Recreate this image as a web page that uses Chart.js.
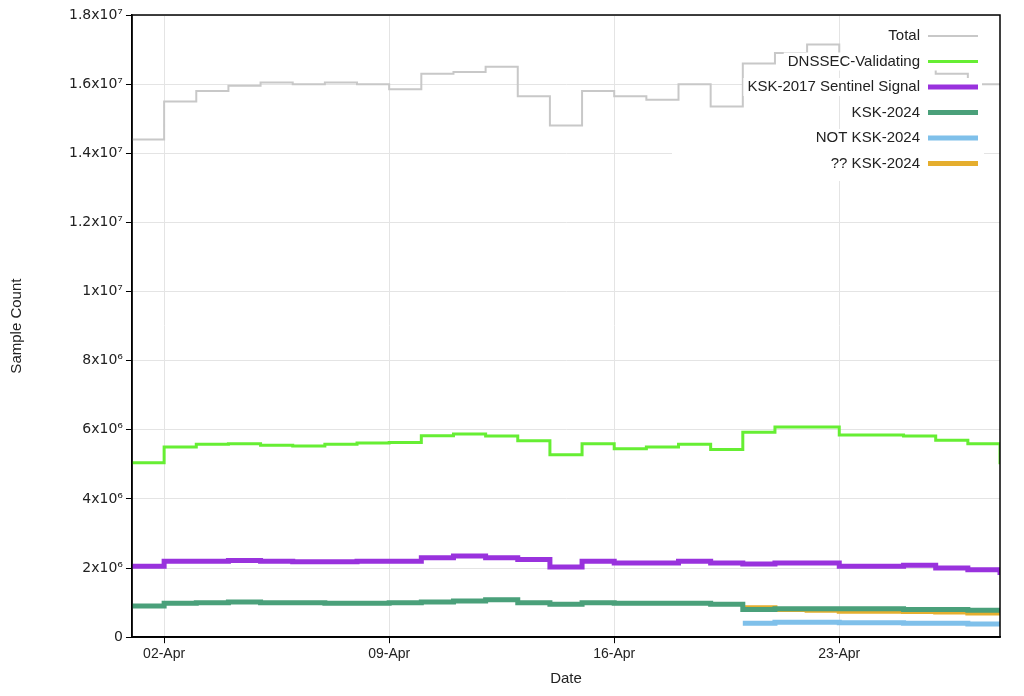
<!DOCTYPE html>
<html>
<head>
<meta charset="utf-8">
<script src="https://cdn.jsdelivr.net/npm/chart.js@4/dist/chart.umd.min.js"></script>
<style>
  body { margin: 0; background: #fff; }
  #wrap { width: 1024px; height: 696px; }
</style>
</head>
<body>
<div id="wrap"><canvas id="chart"></canvas></div>
<script>
// days of April, 1..28
const days = [1,2,3,4,5,6,7,8,9,10,11,12,13,14,15,16,17,18,19,20,21,22,23,24,25,26,27,28];
const tickDays = [2, 9, 16, 23];
const tickLabels = ['02-Apr', '09-Apr', '16-Apr', '23-Apr'];

const total = [14.4,15.5,15.8,15.95,16.05,16.0,16.05,16.0,15.85,16.3,16.35,16.5,15.65,14.8,15.8,15.65,15.55,16.0,15.35,16.6,16.9,17.15,16.45,16.45,16.55,16.3,16.0,16.0];
const dnssec = [5.05,5.5,5.58,5.6,5.55,5.53,5.58,5.62,5.63,5.83,5.88,5.82,5.68,5.28,5.6,5.45,5.5,5.58,5.43,5.93,6.08,6.08,5.85,5.85,5.82,5.7,5.6,5.0];
const ksk2017 = [2.05,2.2,2.2,2.22,2.2,2.18,2.18,2.2,2.2,2.3,2.35,2.3,2.25,2.03,2.2,2.15,2.15,2.2,2.15,2.12,2.15,2.15,2.05,2.05,2.08,2.0,1.95,1.8];
const ksk2024 = [0.9,0.98,1.0,1.02,1.0,1.0,0.98,0.98,1.0,1.02,1.05,1.08,1.0,0.95,1.0,0.98,0.98,0.98,0.95,0.8,0.82,0.82,0.82,0.82,0.8,0.8,0.78,0.75];
const notKsk2024 = [null,null,null,null,null,null,null,null,null,null,null,null,null,null,null,null,null,null,null,0.4,0.43,0.43,0.42,0.42,0.4,0.4,0.38,0.38];
const unknownKsk2024 = [null,null,null,null,null,null,null,null,null,null,null,null,null,null,null,null,null,null,null,0.85,0.8,0.78,0.75,0.75,0.74,0.73,0.7,0.7];

const yTickLabels = {0:'0', 2:'2x10⁶', 4:'4x10⁶', 6:'6x10⁶', 8:'8x10⁶', 10:'1x10⁷', 12:'1.2x10⁷', 14:'1.4x10⁷', 16:'1.6x10⁷', 18:'1.8x10⁷'};

function series(label, vals, color, width) {
    return {
        label: label,
        data: days.map((d, i) => ({ x: d, y: vals[i] === null ? null : vals[i] * 1e6 })),
        borderColor: color,
        backgroundColor: color,
        borderWidth: width,
        stepped: 'before',
        pointRadius: 0,
        spanGaps: false
    };
}

// legend drawn inside the plot, text right-aligned with the sample line on the right
const insideLegend = {
    id: 'insideLegend',
    afterDatasetsDraw(chart) {
        const ctx = chart.ctx;
        const area = chart.chartArea;
        const right = area.right - 22;
        ctx.save();
        ctx.fillStyle = '#fff';
        ctx.fillRect(672, area.top + 122, right - 672 + 6, 44);
        ctx.font = '15px "Liberation Sans", Arial, sans-serif';
        ctx.textAlign = 'right';
        ctx.textBaseline = 'middle';
        chart.data.datasets.forEach((ds, i) => {
            const y = area.top + 21 + i * 25.5;
            const w = ctx.measureText(ds.label).width;
            ctx.fillStyle = '#fff';
            ctx.fillRect(right - 62 - w, y - 9, w + 66, 18);
            ctx.fillStyle = '#222';
            ctx.fillText(ds.label, right - 58, y);
            ctx.strokeStyle = ds.borderColor;
            ctx.lineWidth = ds.borderWidth;
            ctx.beginPath();
            ctx.moveTo(right - 50, y);
            ctx.lineTo(right, y);
            ctx.stroke();
        });
        ctx.restore();
    }
};

new Chart(document.getElementById('chart'), {
    type: 'line',
    data: {
        datasets: [
            series('Total', total, '#c8c8c8', 2),
            series('DNSSEC-Validating', dnssec, '#66ee33', 3),
            series('KSK-2017 Sentinel Signal', ksk2017, '#9932dd', 5),
            series('KSK-2024', ksk2024, '#4aa07a', 5),
            series('NOT KSK-2024', notKsk2024, '#7fc0ea', 5),
            series('?? KSK-2024', unknownKsk2024, '#e5ae2e', 5)
        ]
    },
    options: {
        responsive: true,
        maintainAspectRatio: false,
        animation: false,
        layout: { padding: { top: 15, right: 24, left: 4, bottom: 4 } },
        plugins: { legend: { display: false }, tooltip: { enabled: false } },
        scales: {
            x: {
                type: 'linear',
                min: 1,
                max: 28,
                afterBuildTicks: axis => { axis.ticks = tickDays.map(v => ({ value: v })); },
                ticks: {
                    callback: v => tickLabels[tickDays.indexOf(v)],
                    color: '#222',
                    font: { size: 14, family: '"Liberation Sans", Arial, sans-serif' },
                    maxRotation: 0
                },
                grid: { color: '#e4e4e4', tickColor: '#000', tickLength: 6 },
                border: { color: '#000', width: 1.5 },
                title: { display: true, text: 'Date', color: '#222', font: { size: 15, family: '"Liberation Sans", Arial, sans-serif' } }
            },
            y: {
                min: 0,
                max: 1.8e7,
                ticks: {
                    stepSize: 2e6,
                    callback: v => yTickLabels[Math.round(v / 1e6)],
                    color: '#222',
                    font: { size: 14, family: '"DejaVu Sans", sans-serif' }
                },
                grid: { color: '#e4e4e4', tickColor: '#000', tickLength: 6 },
                border: { color: '#000', width: 1.5 },
                title: { display: true, text: 'Sample Count', color: '#222', padding: { bottom: 40 }, font: { size: 15, family: '"Liberation Sans", Arial, sans-serif' } }
            }
        }
    },
    plugins: [insideLegend, {
        id: 'frame',
        afterDraw(chart) {
            const a = chart.chartArea, ctx = chart.ctx;
            ctx.save();
            ctx.strokeStyle = '#000';
            ctx.lineWidth = 1.5;
            ctx.strokeRect(a.left, a.top, a.right - a.left, a.bottom - a.top);
            ctx.restore();
        }
    }]
});
</script>
</body>
</html>
